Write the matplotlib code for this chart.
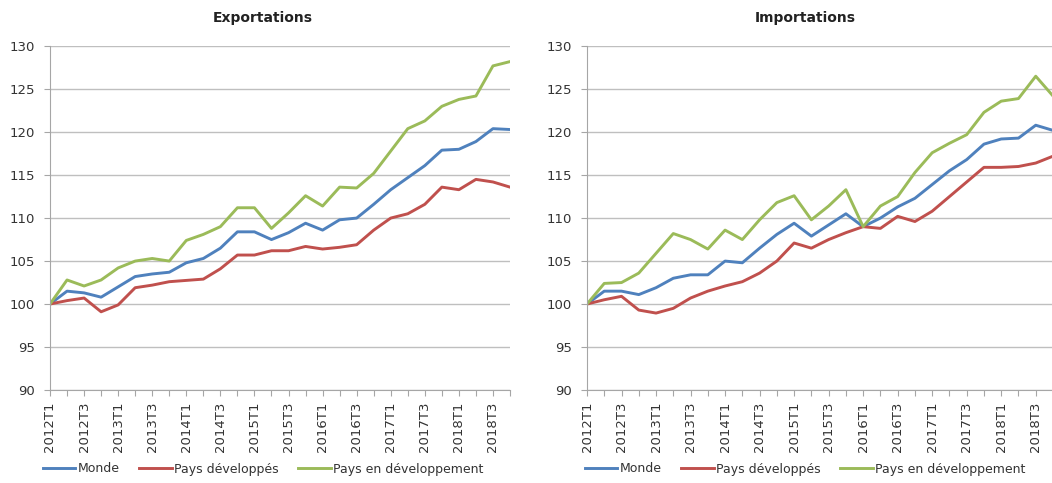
import matplotlib.pyplot as plt

# quarters 2012T1 .. 2018T4
quarters = [f"{y}T{q}" for y in range(2012, 2019) for q in range(1, 5)]

exp_monde = [100, 101.5, 101.3, 100.8, 102.0, 103.2, 103.5, 103.7, 104.8, 105.3,
             106.5, 108.4, 108.4, 107.5, 108.3, 109.4, 108.6, 109.8, 110.0, 111.6,
             113.3, 114.7, 116.1, 117.9, 118.0, 118.9, 120.4, 120.3]
exp_dev = [100, 100.4, 100.7, 99.1, 99.9, 101.9, 102.2, 102.6, 102.75, 102.9,
           104.1, 105.7, 105.7, 106.2, 106.2, 106.7, 106.4, 106.6, 106.9, 108.6,
           110.0, 110.5, 111.6, 113.6, 113.3, 114.5, 114.2, 113.6]
exp_pvd = [100, 102.8, 102.1, 102.8, 104.2, 105.0, 105.3, 105.0, 107.4, 108.1,
           109.0, 111.2, 111.2, 108.8, 110.6, 112.6, 111.4, 113.6, 113.5, 115.2,
           117.8, 120.4, 121.3, 123.0, 123.8, 124.2, 127.7, 128.2]

imp_monde = [100, 101.5, 101.5, 101.1, 101.9, 103.0, 103.4, 103.4, 105.0, 104.8,
             106.5, 108.1, 109.4, 107.9, 109.2, 110.5, 109.0, 110.0, 111.3, 112.3,
             113.9, 115.5, 116.8, 118.6, 119.2, 119.3, 120.8, 120.2]
imp_dev = [100, 100.5, 100.9, 99.3, 98.95, 99.5, 100.7, 101.5, 102.1, 102.6,
           103.6, 105.0, 107.1, 106.5, 107.5, 108.3, 109.0, 108.8, 110.2, 109.6,
           110.8, 112.5, 114.2, 115.9, 115.9, 116.0, 116.4, 117.2]
imp_pvd = [100, 102.4, 102.5, 103.6, 105.9, 108.2, 107.5, 106.4, 108.6, 107.5,
           109.8, 111.8, 112.6, 109.8, 111.4, 113.3, 109.0, 111.4, 112.5, 115.3,
           117.6, 118.7, 119.7, 122.3, 123.6, 123.9, 126.5, 124.2]

series_names = ["Monde", "Pays développés", "Pays en développement"]
colors = ["#4F81BD", "#C0504D", "#9BBB59"]

fig = plt.figure(figsize=(10.52, 4.83), dpi=100)
ax1 = fig.add_axes([50 / 1052, 0.1925, 460 / 1052, 0.712])
ax2 = fig.add_axes([587 / 1052, 0.1925, 466 / 1052, 0.712])

panels = [
    (ax1, "Exportations", [exp_monde, exp_dev, exp_pvd], 263),
    (ax2, "Importations", [imp_monde, imp_dev, imp_pvd], 805),
]

x = list(range(len(quarters)))
labels = [q if i % 2 == 0 else "" for i, q in enumerate(quarters)]

for ax, title, data, cx in panels:
    lines = []
    for vals, name, c in zip(data, series_names, colors):
        ln, = ax.plot(x, vals, color=c, lw=2.1, label=name, solid_joinstyle="round")
        lines.append(ln)
    ax.set_xlim(0, 27)
    ax.set_ylim(90, 130)
    ax.set_yticks(range(90, 131, 5))
    ax.set_xticks(x)
    ax.set_xticklabels(labels, rotation=90, ha="center", fontsize=9.5, color="#333333")
    ax.tick_params(axis="y", labelsize=9.5, labelcolor="#333333", length=4,
                   color="#A6A6A6", pad=7)
    ax.tick_params(axis="x", length=4, color="#A6A6A6", pad=4)
    ax.grid(axis="y", color="#BFBFBF", lw=1)
    ax.set_axisbelow(True)
    for s in ["top", "right"]:
        ax.spines[s].set_visible(False)
    for s in ["left", "bottom"]:
        ax.spines[s].set_color("#A6A6A6")
    fig.text(cx / 1052, 1 - 18 / 483, title, ha="center", va="center",
             fontsize=10, fontweight="bold", color="#222222")
    fig.legend(handles=lines, loc="center", bbox_to_anchor=(cx / 1052, 1 - 469 / 483),
               ncol=3, frameon=False, fontsize=9, handlelength=2.6,
               handletextpad=0.15, columnspacing=1.6, labelcolor="#333333")

fig.savefig("out.png", dpi=100)
